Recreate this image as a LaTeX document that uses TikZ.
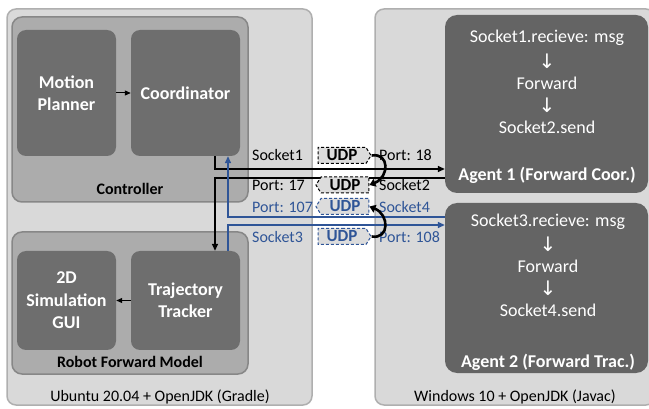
\documentclass[tikz,border=0pt]{standalone}
\usepackage{fontspec}
\setmainfont{Carlito}
\newfontfamily\arrowfont{DejaVu Sans}
\usetikzlibrary{shapes.symbols,arrows.meta}
\definecolor{outerfill}{RGB}{217,217,217}
\definecolor{outerline}{RGB}{175,175,175}
\definecolor{midfill}{RGB}{172,172,172}
\definecolor{midline}{RGB}{135,135,135}
\definecolor{innerfill}{RGB}{110,110,110}
\definecolor{agentfill}{RGB}{100,100,100}
\definecolor{udpfill}{RGB}{220,220,220}
\definecolor{netblue}{RGB}{47,85,151}
\begin{document}
\begin{tikzpicture}[x=1pt,y=-1pt,
  outerbox/.style={draw=outerline,fill=outerfill,line width=1.5pt,rounded corners=9pt,inner sep=0pt},
  midbox/.style={draw=midline,fill=midfill,line width=1.5pt,rounded corners=10pt,inner sep=0pt},
  innerbox/.style={fill=innerfill,rounded corners=9pt,inner sep=0pt,text=white,align=center,
    font=\bfseries\fontsize{18}{22.5}\selectfont},
  agentbox/.style={fill=agentfill,rounded corners=12pt,inner sep=0pt},
  atext/.style={text=white,font=\fontsize{18}{18}\selectfont,inner sep=0pt},
  aarrow/.style={text=white,font=\arrowfont\fontsize{20}{20}\selectfont,inner sep=0pt},
  lbl/.style={font=\fontsize{16}{16}\selectfont,inner sep=0pt,anchor=west},
  boldlbl/.style={font=\bfseries\fontsize{16}{16}\selectfont,inner sep=0pt},
  udpbox/.style={signal,draw,dashed,dash pattern=on 3pt off 2pt,line width=1pt,fill=udpfill,
    signal pointer angle=115,inner xsep=3pt,inner ysep=2pt,minimum width=53pt,minimum height=16pt,
    font=\bfseries\fontsize{17}{17}\selectfont},
  thin/.style={line width=1pt,-{Triangle[length=6pt,width=5pt]}},
  wire/.style={line width=1.5pt,-{Triangle[length=7pt,width=6pt]}},
  swirl/.style={line width=2.6pt,-{Triangle[length=6pt,width=8pt]}}
]
\useasboundingbox (0,0) rectangle (649,409);

% outer boxes
\node[outerbox,minimum width=305pt,minimum height=396pt] (lout) at (159.5,207) {};
\node[outerbox,minimum width=280pt,minimum height=396pt] (rout) at (515,207) {};

% controller
\node[midbox,minimum width=236pt,minimum height=185pt] (ctrl) at (130,109.5) {};
\node[innerbox,minimum width=99pt,minimum height=126pt] (mp) at (66.5,93) {Motion\\Planner};
\node[innerbox,minimum width=109pt,minimum height=126pt] (coord) at (185.5,93) {Coordinator};
\node[boldlbl] (ctrllbl) at (130,189) {Controller};

% robot forward model
\node[midbox,minimum width=236pt,minimum height=142pt] (rfm) at (130,303) {};
\node[innerbox,minimum width=99pt,minimum height=99pt] (gui) at (66.5,300.5) {2D\\Simulation\\GUI};
\node[innerbox,minimum width=109pt,minimum height=99pt] (tt) at (185.5,300.5) {Trajectory\\Tracker};
\node[boldlbl] (rfmlbl) at (130,362) {Robot Forward Model};

\node[font=\fontsize{16}{16}\selectfont,inner sep=0pt] (ubu) at (160,397) {Ubuntu 20.04 + OpenJDK (Gradle)};
\node[font=\fontsize{16}{16}\selectfont,inner sep=0pt] (win) at (515,397) {Windows 10 + OpenJDK (Javac)};

% agents
\node[agentbox,minimum width=203pt,minimum height=178pt] (ag1) at (546.5,104) {};
\node[atext] (a1l1) at (547,38) {Socket1.recieve: msg};
\node[aarrow] (a1l2) at (547,61) {↓};
\node[atext] (a1l3) at (547,83) {Forward};
\node[aarrow] (a1l4) at (547,105) {↓};
\node[atext] (a1l5) at (547,127) {Socket2.send};
\node[atext,font=\bfseries\fontsize{18}{18}\selectfont] (a1l6) at (547,175) {Agent 1 (Forward Coor.)};

\node[agentbox,minimum width=203pt,minimum height=170pt] (ag2) at (546.5,288) {};
\node[atext] (a2l1) at (548,222) {Socket3.recieve: msg};
\node[aarrow] (a2l2) at (548,244) {↓};
\node[atext] (a2l3) at (548,266) {Forward};
\node[aarrow] (a2l4) at (548,288) {↓};
\node[atext] (a2l5) at (548,310) {Socket4.send};
\node[atext,font=\bfseries\fontsize{18}{18}\selectfont] (a2l6) at (548,362) {Agent 2 (Forward Trac.)};

% internal arrows
\draw[thin] (mp.east) -- (coord.west);
\draw[thin] (tt.west) -- (gui.east);

% helper coordinates
\coordinate (xa) at (215,0);
\coordinate (xb) at (228,0);
\coordinate (y1) at (0,169);
\coordinate (y2) at (0,178);
\coordinate (y3) at (0,217);
\coordinate (y4) at (0,225);

% wires
\draw[wire] (coord.south -| xa) |- (ag1.west |- y1);
\draw[wire] (ag1.west |- y2) -| (tt.north -| xa);
\draw[wire,netblue] (ag2.west |- y3) -| (coord.south -| xb);
\draw[wire,netblue] (tt.north -| xb) |- (ag2.west |- y4);

% labels
\node[lbl] (s1) at (252,155) {Socket1};
\node[lbl] (p18) at (379,155) {Port: 18};
\node[lbl] (p17) at (252,185) {Port: 17};
\node[lbl] (s2) at (379,185) {Socket2};
\node[lbl,text=netblue] (p107) at (252,207) {Port: 107};
\node[lbl,text=netblue] (s4) at (379,207) {Socket4};
\node[lbl,text=netblue] (s3) at (252,237) {Socket3};
\node[lbl,text=netblue] (p108) at (379,237) {Port: 108};

% UDP tags
\node[udpbox,signal to=east] (u1) at (342,155.5) {UDP};
\node[udpbox,signal to=west] (u2) at (345,185) {UDP};
\node[udpbox,signal to=west,draw=netblue,text=netblue] (u3) at (345,206.5) {UDP};
\node[udpbox,signal to=east,draw=netblue,text=netblue] (u4) at (342,236.5) {UDP};

% swirls
\draw[swirl] (u1.east) .. controls +(18,-3) and +(20,-8) .. (u2.east);
\draw[swirl] (u4.east) .. controls +(18,3) and +(20,8) .. (u3.east);
\end{tikzpicture}
\end{document}
